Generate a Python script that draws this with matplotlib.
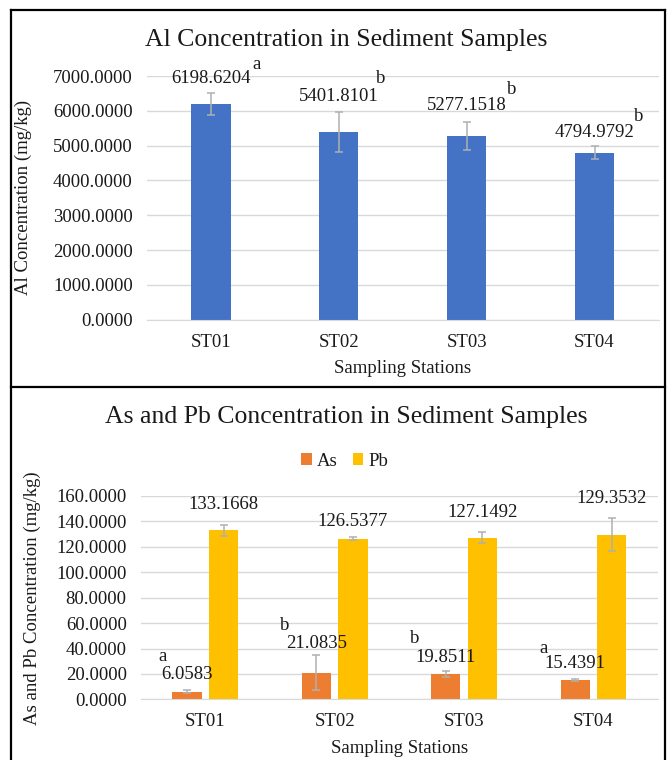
import numpy as np
import matplotlib
matplotlib.use('Agg')
import matplotlib.pyplot as plt
from matplotlib.lines import Line2D

plt.rcParams['font.family'] = ['Liberation Serif', 'DejaVu Serif']
FS = 13.5

stations = ['ST01', 'ST02', 'ST03', 'ST04']

al_mean = [6198.6204, 5401.8101, 5277.1518, 4794.9792]
al_err = [320, 570, 400, 190]
al_group = ['a', 'b', 'b', 'b']

as_mean = [6.0583, 21.0835, 19.8511, 15.4391]
as_err = [1.2, 13.7, 2.1, 1.0]
as_group = ['a', 'b', 'b', 'a']

pb_mean = [133.1668, 126.5377, 127.1492, 129.3532]
pb_err = [4.3, 1.0, 4.5, 13.0]

al_ticks = np.arange(0, 7001, 1000)
asp_ticks = np.arange(0, 161, 20)

# label placement in pixels, relative to the top-centre of each bar
al_lab_dy = [25, 35, 31, 20]
al_let_dxy = [(46, 39), (42, 53), (45, 47), (44, 36)]
as_lab_dy = [17, 29, 17, 16]
as_let_dxy = [(-24, 35), (-32, 47), (-31, 36), (-32, 31)]
pb_lab_dy = [26, 17, 25, 36]

BLUE = '#4472C4'
ORANGE = '#ED7D31'
GOLD = '#FFC000'
GRID = '#d9d9d9'
ERR = '#b0b0b0'
TXT = '#1a1a1a'

W, H = 667, 760
fig = plt.figure(figsize=(W / 100, H / 100), dpi=100)


def style_axes(ax, ticks, fmt):
    ax.set_yticks(ticks)
    ax.set_yticklabels([fmt.format(t) for t in ticks], color=TXT)
    ax.set_ylim(ticks[0], ticks[-1])
    ax.grid(axis='y', color=GRID, linewidth=1)
    ax.set_axisbelow(True)
    for s in ['top', 'right', 'left']:
        ax.spines[s].set_visible(False)
    ax.spines['bottom'].set_color(GRID)
    ax.tick_params(length=0, pad=10, colors=TXT, labelsize=FS)
    ax.set_xlim(-0.5, len(stations) - 0.5)
    ax.set_xticks(range(len(stations)))
    ax.set_xticklabels(stations)


def label(ax, x, y, text, dx, dy):
    ax.annotate(text, (x, y), xytext=(dx, dy), textcoords='offset pixels',
                ha='center', va='center', fontsize=FS, color=TXT,
                annotation_clip=False)


x = np.arange(len(stations))
ekw = dict(ecolor=ERR, elinewidth=1.1, capsize=3.2, capthick=1.1)

# Al panel
ax1 = fig.add_axes([146.7 / W, 1 - 319.8 / H, (658.5 - 146.7) / W, (319.8 - 76) / H])
ax1.bar(x, al_mean, width=0.31, color=BLUE, yerr=al_err, error_kw=ekw)
style_axes(ax1, al_ticks, '{:.4f}')
ax1.set_xlabel('Sampling Stations', color=TXT, fontsize=FS, labelpad=7)
ax1.set_ylabel('Al Concentration (mg/kg)', color=TXT, fontsize=FS, labelpad=15)
for i in range(len(stations)):
    label(ax1, x[i], al_mean[i], f'{al_mean[i]:.4f}', 0, al_lab_dy[i])
    dx, dy = al_let_dxy[i]
    label(ax1, x[i], al_mean[i], al_group[i], dx, dy)

# As / Pb panel
ax2 = fig.add_axes([140.6 / W, 1 - 699.4 / H, (658.2 - 140.6) / W, (699.4 - 496) / H])
off, bw = 0.1415, 0.2265
ax2.bar(x - off, as_mean, width=bw, color=ORANGE, yerr=as_err, error_kw=ekw, label='As')
ax2.bar(x + off, pb_mean, width=bw, color=GOLD, yerr=pb_err, error_kw=ekw, label='Pb')
style_axes(ax2, asp_ticks, '{:.4f}')
ax2.set_xlabel('Sampling Stations', color=TXT, fontsize=FS, labelpad=7)
ax2.set_ylabel('As and Pb Concentration (mg/kg)', color=TXT, fontsize=FS, labelpad=11)
for i in range(len(stations)):
    label(ax2, x[i] - off, as_mean[i], f'{as_mean[i]:.4f}', 0, as_lab_dy[i])
    dx, dy = as_let_dxy[i]
    label(ax2, x[i] - off, as_mean[i], as_group[i], dx, dy)
    label(ax2, x[i] + off, pb_mean[i], f'{pb_mean[i]:.4f}', 0, pb_lab_dy[i])

fig.legend(handles=ax2.get_legend_handles_labels()[0],
           labels=['As', 'Pb'], loc='center', bbox_to_anchor=(345 / W, 1 - 461 / H),
           ncol=2, frameon=False, fontsize=FS, handlelength=0.55, handleheight=0.55,
           handletextpad=0.3, columnspacing=0.8, labelcolor=TXT)

fig.text(346 / W, 1 - 40 / H, 'Al Concentration in Sediment Samples',
         ha='center', va='center', fontsize=18.5, color=TXT)
fig.text(346 / W, 1 - 417 / H, 'As and Pb Concentration in Sediment Samples',
         ha='center', va='center', fontsize=18.5, color=TXT)

# panel frames
for xs, ys in [([11, 665], [10, 10]), ([11, 11], [10, 760]), ([665, 665], [10, 760]),
               ([11, 665], [387, 387])]:
    fig.add_artist(Line2D([v / W for v in xs], [1 - v / H for v in ys],
                          color='black', linewidth=1.6, transform=fig.transFigure))

fig.savefig('out.png', dpi=100)
